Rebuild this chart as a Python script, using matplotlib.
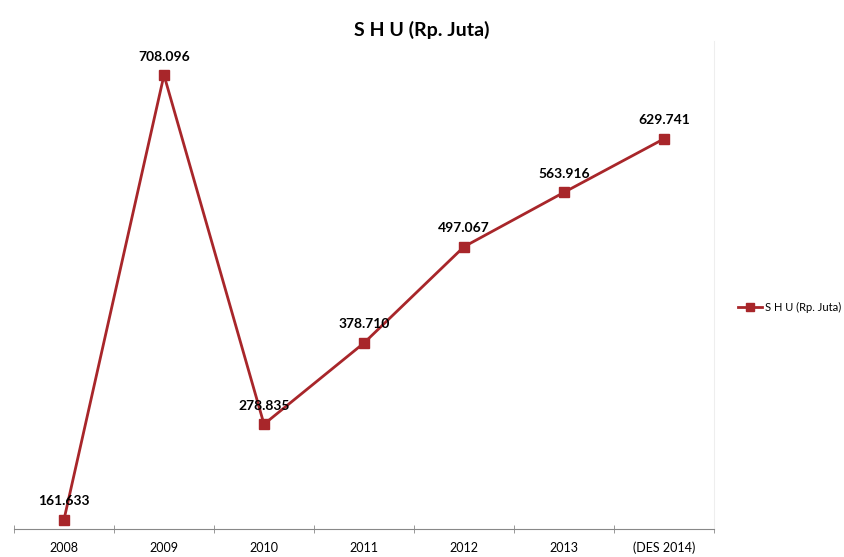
import numpy as np
import matplotlib.pyplot as plt

years = ["2008", "2009", "2010", "2011", "2012", "2013", "(DES 2014)"]
shu = [161.633, 708.096, 278.835, 378.710, 497.067, 563.916, 629.741]
labels = ["161.633", "708.096", "278.835", "378.710", "497.067", "563.916", "629.741"]

plt.rcParams['font.family'] = ['Lato', 'DejaVu Sans']

fig = plt.figure(figsize=(8.44, 5.57), dpi=100)
ax = fig.add_axes([14 / 844, 28 / 557, 700 / 844, 488 / 557])

x = np.arange(len(years))
color = "#A8262A"
ax.plot(x, shu, color=color, lw=2, marker="s", ms=7, label="S H U (Rp. Juta)")

for xi, yi, t in zip(x, shu, labels):
    ax.annotate(t, (xi, yi), xytext=(0, 9), textcoords="offset points",
                ha="center", va="bottom", fontsize=10, fontweight="bold")

ax.set_xlim(-0.5, len(years) - 0.5)
ax.set_ylim(150, 750)

for s in ["top", "left"]:
    ax.spines[s].set_visible(False)
ax.spines["right"].set_color("#eeeeee")
ax.spines["bottom"].set_color("#888888")
ax.set_yticks([])

ax.set_xticks(x)
ax.set_xticklabels(years, fontsize=9)
ax.tick_params(axis="x", which="major", length=0, pad=9)
ax.set_xticks(np.arange(-0.5, len(years)), minor=True)
ax.tick_params(axis="x", which="minor", length=6, direction="inout", color="#888888")

fig.text(0.5, 1 - 30 / 557, "S H U (Rp. Juta)", ha="center", va="center",
         fontsize=14, fontweight="bold")

fig.legend(loc="center left", bbox_to_anchor=(728 / 844, 1 - 307 / 557),
           frameon=False, fontsize=8, handlelength=2.2, handletextpad=0.2,
           markerscale=0.9)

fig.savefig("out.png", dpi=100)
